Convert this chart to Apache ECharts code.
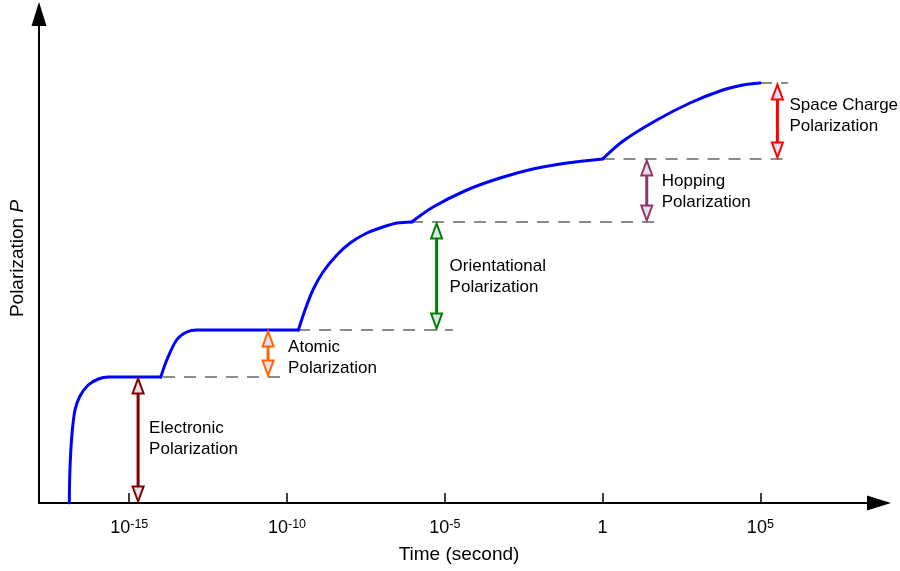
<!DOCTYPE html>
<html>
<head>
<meta charset="utf-8">
<script src="https://cdn.jsdelivr.net/npm/echarts@6.0.0/dist/echarts.min.js"></script>
<style>
  html, body { margin: 0; padding: 0; background: #fff; }
  #main { width: 900px; height: 571px; }
</style>
</head>
<body>
<div id="main"></div>
<script>
// x is log10 of time in seconds, y is polarization (arbitrary units)
var tickLogT = [-15, -10, -5, 0, 5];

var curveLogT = [-16.90, -16.88, -16.82, -16.72, -16.56, -16.30, -15.98, -15.66,
  -14.00, -13.81, -13.50, -13.18, -12.86,
  -9.64, -9.43, -9.18, -8.86, -8.42, -8.00, -7.47, -6.96, -6.51, -6.05,
  -5.37, -4.30, -3.25, -2.21, -1.13, 0.00,
  0.65, 1.72, 2.77, 3.81, 4.45, 4.99];
var curveP = [0, 33, 67, 93, 107, 118, 124, 126,
  126, 143, 163, 171, 173,
  173, 193, 213, 231, 248, 260, 270, 276, 280, 281,
  296, 313, 325, 334, 340, 344,
  362, 383, 400, 413, 418, 420];
// indices where the curve has a sharp corner (a new process sets in)
var cornerIdx = [8, 13, 22, 28];

// polarization mechanisms: arrow between two levels
var mechNames = ['Electronic', 'Atomic', 'Orientational', 'Hopping', 'Space Charge'];
var mechLogT = [-14.72, -10.60, -5.26, 1.40, 5.54];
var mechLow = [0, 126, 173, 281, 344];
var mechHigh = [126, 173, 281, 344, 420];

// dashed level guides
var guideLevel = [126, 173, 281, 344, 420];
var guideFrom = [-13.93, -9.65, -6.07, 0, 4.99];
var guideTo = [-10.13, -4.74, 1.71, 5.93, 5.88];

// styles
var arrowColors = ['#800000', '#ff6600', '#008000', '#993366', '#ff0000'];
var labelDx = [11, 20, 13, 15, 12];
var labelDy = [-1, 4, 1, 1, -5];
var headFill = '#dfe2ec';
var FONT = '"Liberation Sans", Arial, Helvetica, sans-serif';

var chart = echarts.init(document.getElementById('main'), null, { renderer: 'canvas' });

var guideData = guideLevel.map(function (l, i) { return [guideFrom[i], guideTo[i], l]; });
var mechData = mechLogT.map(function (t, i) { return [t, mechHigh[i], mechLow[i]]; });

// one smooth piece per process, joined at the corners
var cuts = [0].concat(cornerIdx, [curveLogT.length - 1]);
var curveSeries = [];
for (var k = 0; k < cuts.length - 1; k++) {
  var piece = [];
  for (var j = cuts[k]; j <= cuts[k + 1]; j++) {
    piece.push([curveLogT[j], curveP[j]]);
  }
  curveSeries.push({
    type: 'line',
    name: 'P(t)',
    z: 3,
    data: piece,
    showSymbol: false,
    symbol: 'none',
    smooth: 0.3,
    lineStyle: { color: '#0000ff', width: 3, cap: 'round', join: 'round' }
  });
}

var option = {
  animation: false,
  backgroundColor: '#fff',
  grid: { left: 39, right: 21, top: 14, bottom: 68, containLabel: false, outerBoundsMode: 'none' },
  xAxis: {
    type: 'value',
    min: -17.86,
    max: 8.76,
    name: 'Time (second)',
    nameLocation: 'middle',
    nameGap: 42,
    nameTextStyle: { fontFamily: FONT, fontSize: 19, color: '#000' },
    axisLine: {
      show: true,
      onZero: false,
      symbol: ['none', 'triangle'],
      symbolSize: [15, 24],
      lineStyle: { color: '#000', width: 2 }
    },
    axisTick: {
      show: true,
      inside: true,
      length: 10,
      customValues: tickLogT,
      lineStyle: { color: '#000', width: 1.5 }
    },
    axisLabel: {
      show: true,
      margin: 15,
      customValues: tickLogT,
      formatter: function (v) {
        if (v === 0) return '{b|1}';
        return '{b|10}{s|' + v + '}';
      },
      rich: {
        b: { fontFamily: FONT, fontSize: 18, color: '#000', lineHeight: 20 },
        s: { fontFamily: FONT, fontSize: 12.5, color: '#000', lineHeight: 16, verticalAlign: 'top' }
      }
    },
    splitLine: { show: false }
  },
  yAxis: {
    type: 'value',
    min: 0,
    max: 489,
    name: '{n|Polarization }{i|P}',
    nameLocation: 'middle',
    nameGap: 12,
    nameRotate: 90,
    nameTextStyle: {
      rich: {
        n: { fontFamily: FONT, fontSize: 19, color: '#000' },
        i: { fontFamily: FONT, fontSize: 19, color: '#000', fontStyle: 'italic' }
      }
    },
    axisLine: {
      show: true,
      onZero: false,
      symbol: ['none', 'triangle'],
      symbolSize: [15, 24],
      lineStyle: { color: '#000', width: 2 }
    },
    axisTick: { show: false },
    axisLabel: { show: false },
    splitLine: { show: false }
  },
  series: [
    {
      type: 'custom',
      name: 'guides',
      z: 1,
      clip: false,
      data: guideData,
      encode: { x: [0, 1], y: 2 },
      renderItem: function (params, api) {
        var a = api.coord([api.value(0), api.value(2)]);
        var b = api.coord([api.value(1), api.value(2)]);
        return {
          type: 'line',
          shape: { x1: a[0], y1: a[1], x2: b[0], y2: b[1] },
          style: { stroke: '#8c8c8c', lineWidth: 2, lineDash: [12, 9] }
        };
      }
    },
    {
      type: 'custom',
      name: 'mechanisms',
      z: 4,
      clip: false,
      data: mechData,
      encode: { x: 0, y: [1, 2] },
      renderItem: function (params, api) {
        var i = params.dataIndex;
        var top = api.coord([api.value(0), api.value(1)]);
        var bot = api.coord([api.value(0), api.value(2)]);
        var x = top[0];
        var c = arrowColors[i];
        var y1 = top[1] + 1.5, y2 = bot[1] - 1.5;
        var hh = 15, hw = 5.5;
        var mid = (top[1] + bot[1]) / 2;
        return {
          type: 'group',
          children: [
            {
              type: 'line',
              shape: { x1: x, y1: y1 + hh, x2: x, y2: y2 - hh },
              style: { stroke: c, lineWidth: 3 }
            },
            {
              type: 'polygon',
              shape: { points: [[x, y1], [x - hw, y1 + hh], [x + hw, y1 + hh]] },
              style: { fill: headFill, stroke: c, lineWidth: 2 }
            },
            {
              type: 'polygon',
              shape: { points: [[x, y2], [x - hw, y2 - hh], [x + hw, y2 - hh]] },
              style: { fill: headFill, stroke: c, lineWidth: 2 }
            },
            {
              type: 'text',
              style: {
                text: mechNames[i] + '\nPolarization',
                x: x + labelDx[i],
                y: mid + labelDy[i],
                fill: '#000',
                font: '17px ' + FONT,
                align: 'left',
                verticalAlign: 'middle',
                lineHeight: 21
              }
            }
          ]
        };
      }
    }
  ].concat(curveSeries)
};

chart.setOption(option);
</script>
</body>
</html>
